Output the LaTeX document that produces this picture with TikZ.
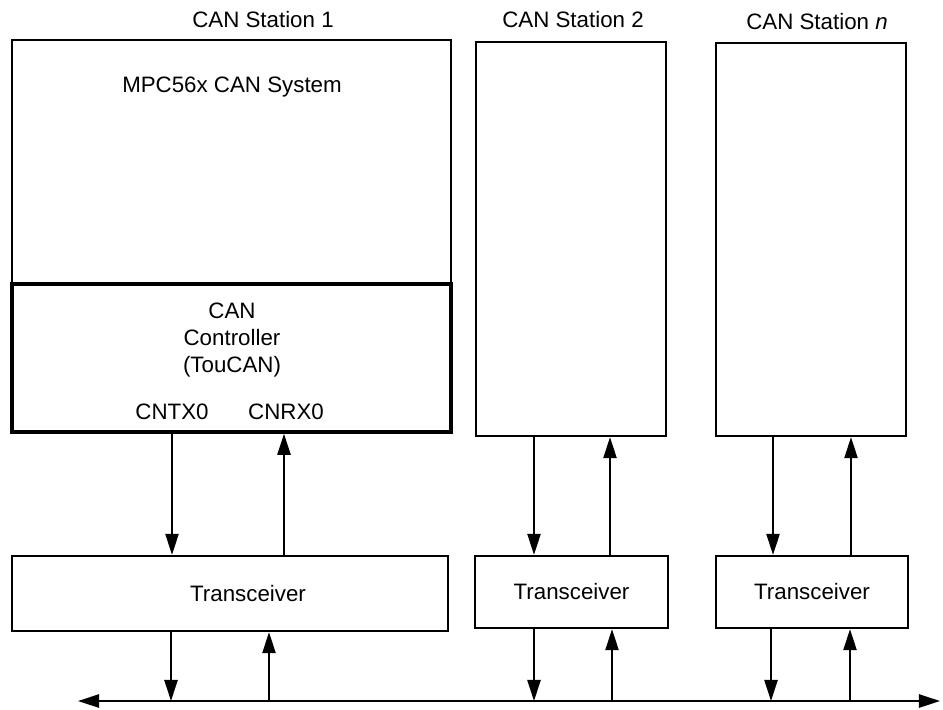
\documentclass[tikz,border=0pt]{standalone}
\usepackage{fontspec}
\setmainfont{Liberation Sans}
\usetikzlibrary{arrows.meta,positioning,calc}

\begin{document}
\begin{tikzpicture}[
    font=\fontsize{12.7}{15.3}\selectfont,
    block/.style={rectangle, draw, line width=1.3pt, inner sep=0pt},
    ctrlblock/.style={block, line width=2pt},
    tip/.tip={Triangle[length=12pt, width=7.5pt]},
    sig/.style={-tip, line width=1.1pt},
    bus/.style={tip-tip, line width=1.3pt},
]
    \useasboundingbox (0,0) rectangle (18.86,-14.18);

    % Station titles
    \node (title1) at (5.26,-0.40) {CAN Station 1};
    \node (title2) at (11.46,-0.40) {CAN Station 2};
    \node (titlen) at (16.34,-0.44) {CAN Station \textit{n}};

    % Station 1: system and controller
    \node[block, minimum width=8.78cm, minimum height=4.88cm] (sys1) at (4.63,-3.24) {};
    \node[ctrlblock, minimum width=8.78cm, minimum height=2.96cm] (ctrl1) at (4.63,-7.16) {};
    \node (systxt) at (4.64,-1.74) {MPC56x CAN System};
    \node[align=center] (ctrltxt) at (4.64,-6.80) {CAN\\Controller\\(TouCAN)};
    \node (cntx) at (3.44,-8.24) {CNTX0};
    \node (cnrx) at (5.72,-8.24) {CNRX0};

    % Stations 2 and n
    \node[block, minimum width=3.80cm, minimum height=7.88cm] (st2) at (11.42,-4.78) {};
    \node[block, minimum width=3.80cm, minimum height=7.86cm] (stn) at (16.22,-4.79) {};

    % Transceivers
    \node[block, minimum width=8.72cm, minimum height=1.50cm] (trx1) at (4.60,-11.87) {};
    \node (trx1txt) at (4.96,-11.87) {Transceiver};
    \node[block, minimum width=3.86cm, minimum height=1.44cm] (trx2) at (11.43,-11.84) {Transceiver};
    \node[block, minimum width=3.84cm, minimum height=1.44cm] (trxn) at (16.24,-11.84) {Transceiver};

    % CAN bus
    \coordinate (busL) at (1.56,-14.02);
    \coordinate (busR) at (18.80,-14.02);
    \draw[bus] (busL) -- (busR);

    % Controller <-> transceiver, station 1
    \draw[sig] (cntx |- ctrl1.south) -- (cntx |- trx1.north);
    \draw[sig] (5.68,0 |- trx1.north) -- (5.68,0 |- ctrl1.south);

    % Station <-> transceiver, stations 2 and n
    \foreach \st/\tr/\xa/\xb in {st2/trx2/10.68/12.20, stn/trxn/15.46/17.02} {
        \draw[sig] (\xa,0 |- \st.south) -- (\xa,0 |- \tr.north);
        \draw[sig] (\xb,0 |- \tr.north) -- (\xb,0 |- \st.south);
    }

    % Transceiver <-> bus
    \foreach \tr/\xa/\xb in {trx1/3.42/5.38, trx2/10.68/12.24, trxn/15.42/17.00} {
        \draw[sig] (\xa,0 |- \tr.south) -- (\xa,0 |- busL);
        \draw[sig] (\xb,0 |- busL) -- (\xb,0 |- \tr.south);
    }
\end{tikzpicture}
\end{document}
